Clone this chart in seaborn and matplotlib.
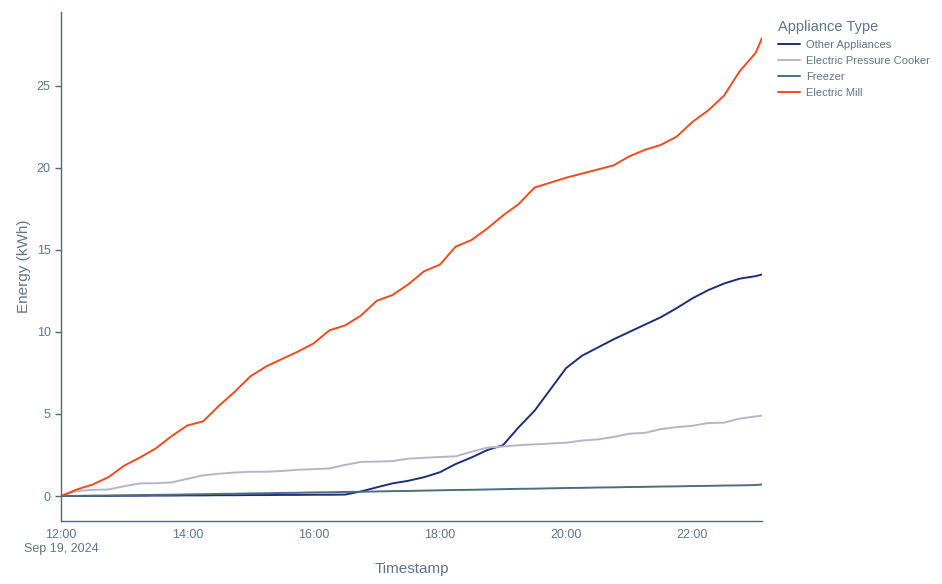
import numpy as np
import pandas as pd
import seaborn as sns
import matplotlib.pyplot as plt
import matplotlib.dates as mdates
from matplotlib.ticker import FuncFormatter

sns.set_style("white")
plt.rcParams['font.family'] = ['Liberation Sans', 'DejaVu Sans']

# 15-minute readings from 12:00, plus last reading at 23:06
times = list(pd.date_range("2024-09-19 12:00", "2024-09-19 23:00", freq="15min")) + [pd.Timestamp("2024-09-19 23:06")]

other_appliances = [0.0, 0.0, 0.01, 0.01, 0.02, 0.02, 0.03, 0.03, 0.04, 0.04,
                    0.05, 0.05, 0.06, 0.06, 0.07, 0.07, 0.08, 0.08, 0.09, 0.28,
                    0.53, 0.77, 0.93, 1.15, 1.45, 1.95, 2.35, 2.8, 3.1, 4.2,
                    5.2, 6.5, 7.8, 8.55, 9.05, 9.55, 10.0, 10.45, 10.9, 11.45,
                    12.05, 12.55, 12.95, 13.25, 13.4, 13.5]
pressure_cooker = [0.0, 0.3, 0.38, 0.4, 0.6, 0.77, 0.78, 0.83, 1.05, 1.26,
                   1.36, 1.43, 1.48, 1.48, 1.53, 1.6, 1.64, 1.68, 1.9, 2.08,
                   2.1, 2.13, 2.28, 2.33, 2.38, 2.42, 2.7, 2.95, 3.02, 3.1,
                   3.15, 3.2, 3.25, 3.38, 3.45, 3.6, 3.8, 3.85, 4.08, 4.2,
                   4.28, 4.45, 4.47, 4.72, 4.85, 4.9]
freezer = [0.0, 0.01, 0.02, 0.03, 0.04, 0.06, 0.07, 0.08, 0.10, 0.11,
           0.13, 0.14, 0.16, 0.17, 0.19, 0.20, 0.22, 0.23, 0.25, 0.26,
           0.28, 0.30, 0.31, 0.33, 0.35, 0.37, 0.38, 0.40, 0.42, 0.44,
           0.45, 0.47, 0.49, 0.50, 0.52, 0.53, 0.55, 0.56, 0.58, 0.59,
           0.61, 0.62, 0.64, 0.65, 0.67, 0.70]
electric_mill = [0.0, 0.4, 0.7, 1.15, 1.85, 2.35, 2.9, 3.65, 4.3, 4.55,
                 5.5, 6.35, 7.3, 7.9, 8.35, 8.8, 9.3, 10.1, 10.4, 11.0,
                 11.9, 12.25, 12.9, 13.7, 14.1, 15.2, 15.6, 16.3, 17.1, 17.8,
                 18.8, 19.1, 19.4, 19.65, 19.9, 20.15, 20.7, 21.1, 21.4, 21.9,
                 22.8, 23.5, 24.4, 25.9, 27.0, 27.9]

appliances = ["Other Appliances", "Electric Pressure Cooker", "Freezer", "Electric Mill"]
colors = ["#1c2f78", "#b4b6c8", "#4c6e80", "#f24a1b"]
series = [other_appliances, pressure_cooker, freezer, electric_mill]

df = pd.concat([pd.DataFrame({"Timestamp": times, "Energy": vals, "Appliance Type": name})
                for name, vals in zip(appliances, series)], ignore_index=True)

text_c = "#5f7588"
axis_c = "#506784"

fig = plt.figure(figsize=(9.42, 5.84), dpi=100)
ax = fig.add_axes([0.0648, 0.1079, 0.744, 0.8716])

sns.lineplot(data=df, x="Timestamp", y="Energy", hue="Appliance Type",
             palette=dict(zip(appliances, colors)), linewidth=1.4, ax=ax)

ax.set_xlim(times[0], times[-1])
ax.set_ylim(-1.52, 29.5)
ax.set_yticks([0, 5, 10, 15, 20, 25])

ax.xaxis.set_major_locator(mdates.HourLocator(byhour=[12, 14, 16, 18, 20, 22]))
def fmt(x, pos):
    d = mdates.num2date(x)
    s = d.strftime("%H:%M")
    if d.hour == 12:
        s += "\nSep 19, 2024"
    return s
ax.xaxis.set_major_formatter(FuncFormatter(fmt))

for s in ["top", "right"]:
    ax.spines[s].set_visible(False)
for s in ["left", "bottom"]:
    ax.spines[s].set_color(axis_c)
    ax.spines[s].set_linewidth(1)

ax.tick_params(axis="y", colors=axis_c, labelcolor=text_c, labelsize=9, length=4, width=1, left=True)
ax.tick_params(axis="x", labelcolor=text_c, labelsize=9, length=0, pad=6)
for lbl in ax.get_xticklabels():
    lbl.set_horizontalalignment("center")

ax.set_xlabel("Timestamp", fontsize=11, color=text_c, labelpad=5)
ax.set_ylabel("Energy (kWh)", fontsize=11, color=text_c, labelpad=4)

leg = ax.legend(title="Appliance Type", loc="upper left", bbox_to_anchor=(1.012, 1.0),
                frameon=False, fontsize=8.0, title_fontsize=10.5, handlelength=2.0,
                labelspacing=0.55, borderaxespad=0.3, handletextpad=0.55)
leg._legend_box.align = "left"
leg.get_title().set_color(text_c)
for t in leg.get_texts():
    t.set_color(text_c)

plt.savefig("out.png", dpi=100)
